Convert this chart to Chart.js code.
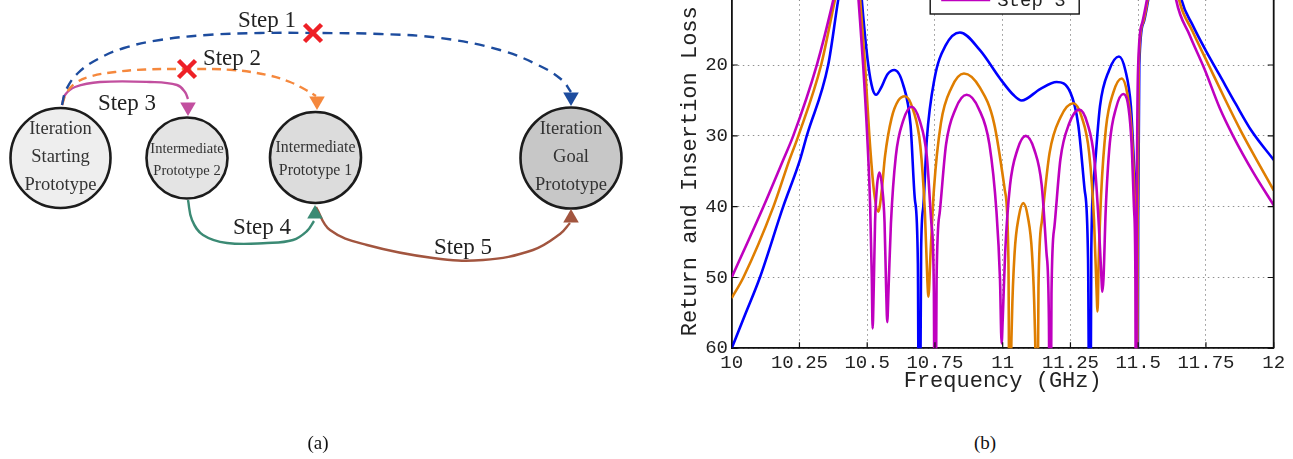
<!DOCTYPE html>
<html lang="en">
<head>
    <meta charset="UTF-8">
    <title>Iteration steps and filter response</title>
    <script src="https://cdn.jsdelivr.net/npm/chart.js@4.4.1/dist/chart.umd.min.js"></script>
    <style>
        html, body { margin: 0; padding: 0; background: #fff; }
        body { position: relative; width: 1293px; height: 459px; overflow: hidden; }
        #diagramWrap { position: absolute; left: 0; top: 0; width: 660px; height: 459px; }
        #responseWrap { position: absolute; left: 660px; top: -40px; width: 633px; height: 440px; }
        .caption { position: absolute; top: 431px; width: 60px; text-align: center;
                   font: 19px "Liberation Serif", serif; line-height: 24px; color: #111; }
    </style>
</head>
<body>
    <div id="diagramWrap"><canvas id="diagram"></canvas></div>
    <div id="responseWrap"><canvas id="response"></canvas></div>
    <div class="caption" style="left: 288px;">(a)</div>
    <div class="caption" style="left: 955px;">(b)</div>

<script>
// ---------- (b) filter response ----------
const freqTicks = [10, 10.25, 10.5, 10.75, 11, 11.25, 11.5, 11.75, 12];
const lossTicks = [10, 20, 30, 40, 50, 60];
const seriesNames = ['Step 1', 'Step 2', 'Step 3'];

// [frequency GHz, loss dB]; 90 marks a notch that drops below the 60 dB floor
const step1Points = [
    [10.000, 60.0], [10.050, 55.2], [10.104, 50.0], [10.190, 40.0], [10.252, 33.4], [10.277, 30.0], [10.356, 20.0], [10.393, 10.8], [10.420, 5.0], [10.440, 2.5],
    [10.458, 2.5], [10.470, 5.5], [10.480, 10.8], [10.504, 20.0], [10.520, 23.4], [10.533, 24.2], [10.550, 23.3], [10.575, 21.3], [10.600, 20.7],
    [10.632, 22.7], [10.660, 28.5], [10.676, 39.0], [10.687, 48.0], [10.692, 90.0],
    [10.699, 46.0], [10.707, 40.0], [10.720, 30.5], [10.748, 22.0], [10.790, 17.2], [10.842, 15.4],
    [10.916, 17.9], [10.990, 21.9], [11.039, 24.2], [11.070, 25.0], [11.138, 23.4], [11.199, 22.4],
    [11.250, 23.9], [11.279, 28.5], [11.302, 37.5], [11.315, 47.5], [11.322, 90.0],
    [11.327, 46.0], [11.338, 35.3], [11.359, 25.8], [11.392, 20.8], [11.429, 18.8],
    [11.453, 20.8], [11.473, 25.8], [11.487, 35.3], [11.494, 44.8], [11.497, 90.0],
    [11.500, 42.0], [11.504, 20.0], [11.520, 14.0], [11.537, 10.8], [11.565, 5.0], [11.590, 2.5],
    [11.610, 2.5], [11.635, 5.5], [11.660, 10.8], [11.700, 14.3], [11.750, 18.0], [11.800, 21.4], [11.860, 25.5], [11.920, 29.4], [12.000, 33.4]
];
const step2Points = [
    [10.000, 52.9], [10.043, 50.0], [10.154, 40.0], [10.213, 33.4], [10.246, 30.0], [10.330, 20.0], [10.381, 10.8], [10.415, 5.0], [10.437, 2.5],
    [10.452, 2.5], [10.463, 5.5], [10.474, 10.8], [10.492, 20.0], [10.508, 30.0], [10.525, 37.8], [10.541, 40.7],
    [10.552, 38.3], [10.566, 32.8], [10.590, 27.5], [10.615, 25.0], [10.640, 24.4],
    [10.670, 26.4], [10.696, 31.4], [10.713, 40.9], [10.722, 50.4], [10.726, 52.7],
    [10.733, 47.2], [10.746, 37.7], [10.772, 28.2], [10.811, 23.2], [10.857, 21.2],
    [10.916, 23.2], [10.968, 28.2], [11.008, 37.7], [11.021, 47.2], [11.027, 90.0],
    [11.030, 65.5], [11.034, 56.0], [11.044, 46.5], [11.059, 41.5], [11.076, 39.5],
    [11.093, 41.5], [11.108, 46.5], [11.118, 56.0], [11.122, 65.5], [11.125, 90.0],
    [11.132, 51.4], [11.145, 41.9], [11.173, 32.4], [11.213, 27.4], [11.261, 25.4],
    [11.292, 27.4], [11.319, 32.4], [11.337, 41.9], [11.346, 51.4], [11.350, 54.8],
    [11.354, 47.9], [11.363, 38.4], [11.381, 28.9], [11.408, 23.9], [11.439, 21.9],
    [11.459, 23.9], [11.475, 28.9], [11.487, 38.4], [11.492, 47.9], [11.495, 90.0],
    [11.498, 42.0], [11.502, 20.0], [11.518, 14.0], [11.535, 10.8], [11.562, 5.0], [11.585, 2.5],
    [11.605, 2.5], [11.628, 5.5], [11.651, 10.8], [11.700, 15.2], [11.760, 20.0], [11.820, 24.8], [11.880, 29.4], [11.940, 33.6], [12.000, 37.7]
];
const step3Points = [
    [10.000, 50.0], [10.117, 40.0], [10.190, 33.4], [10.227, 30.0], [10.314, 20.0], [10.375, 10.8], [10.408, 5.0], [10.430, 2.5],
    [10.448, 2.5], [10.458, 5.5], [10.468, 10.8], [10.485, 20.0], [10.500, 30.0], [10.511, 40.0], [10.517, 50.0], [10.520, 57.2],
    [10.524, 51.7], [10.529, 42.2], [10.536, 37.2], [10.545, 35.2], [10.555, 37.2], [10.564, 42.2], [10.570, 51.7], [10.574, 56.3],
    [10.5785, 51.9], [10.5875, 42.4], [10.6055, 32.9], [10.6325, 27.9], [10.664, 25.9],
    [10.694, 27.9], [10.720, 32.9], [10.737, 42.4], [10.746, 51.9], [10.750, 90.0],
    [10.756, 50.2], [10.768, 40.7], [10.791, 31.2], [10.826, 26.2], [10.867, 24.2],
    [10.912, 26.2], [10.951, 31.2], [10.977, 40.7], [10.990, 50.2], [10.996, 59.3],
    [11.000, 56.0], [11.009, 46.5], [11.027, 37.0], [11.054, 32.0], [11.085, 30.0],
    [11.117, 32.0], [11.144, 37.0], [11.1615, 46.5], [11.1705, 56.0], [11.175, 90.0],
    [11.180, 52.3], [11.191, 42.8], [11.213, 33.3], [11.245, 28.3], [11.283, 26.3],
    [11.313, 28.3], [11.338, 33.3], [11.355, 42.8], [11.363, 49.0], [11.368, 52.0],
    [11.372, 50.1], [11.380, 40.6], [11.395, 31.1], [11.418, 26.1], [11.445, 24.1],
    [11.4645, 26.1], [11.4755, 31.1], [11.485, 40.6], [11.4897, 50.1], [11.492, 90.0],
    [11.495, 40.0], [11.500, 20.0], [11.515, 14.0], [11.532, 10.8], [11.558, 5.0], [11.580, 2.5],
    [11.600, 2.5], [11.620, 5.5], [11.640, 10.8], [11.690, 15.8], [11.745, 20.6], [11.800, 26.0], [11.850, 30.0], [11.925, 35.2], [12.000, 39.8]
];

const seriesColors = ['#0000ff', '#df7e00', '#bf00bf'];
const monoFamily = "'Liberation Mono', 'Courier New', monospace";

const responseSets = [step1Points, step2Points, step3Points].map((pts, i) => ({
    label: seriesNames[i],
    data: pts.map(p => ({ x: p[0], y: p[1] })),
    borderColor: seriesColors[i],
    backgroundColor: seriesColors[i],
    borderWidth: 2.6,
    pointRadius: 0,
    cubicInterpolationMode: 'monotone',
    order: 3 - i   // last step drawn on top
}));

// closes the box (top/right) and adds MATLAB-style inward ticks
const axesBox = {
    id: 'axesBox',
    afterDatasetsDraw(chart) {
        const { ctx, chartArea: a, scales } = chart;
        ctx.save();
        ctx.strokeStyle = '#111';
        ctx.lineWidth = 1.8;
        ctx.beginPath();
        ctx.moveTo(a.left, a.top);
        ctx.lineTo(a.right, a.top);
        ctx.lineTo(a.right, a.bottom);
        ctx.stroke();
        ctx.lineWidth = 1.2;
        ctx.beginPath();
        freqTicks.forEach(v => {
            const px = scales.x.getPixelForValue(v);
            ctx.moveTo(px, a.bottom); ctx.lineTo(px, a.bottom - 6);
            ctx.moveTo(px, a.top); ctx.lineTo(px, a.top + 6);
        });
        lossTicks.forEach(v => {
            const py = scales.y.getPixelForValue(v);
            ctx.moveTo(a.left, py); ctx.lineTo(a.left + 6, py);
            ctx.moveTo(a.right, py); ctx.lineTo(a.right - 6, py);
        });
        ctx.stroke();
        ctx.restore();
    }
};

// boxed legend sitting inside the top of the axes
const legendBox = {
    id: 'legendBox',
    afterDraw(chart) {
        const { ctx, chartArea: a } = chart;
        const sets = chart.data.datasets;
        const rowH = 22, boxW = 149;
        const bottom = a.top + 19.8;
        const top = bottom - sets.length * rowH - 8;
        const left = (a.left + a.right) / 2 + 2 - boxW / 2;
        ctx.save();
        ctx.fillStyle = '#fff';
        ctx.fillRect(left, top, boxW, bottom - top);
        ctx.strokeStyle = '#111';
        ctx.lineWidth = 1.4;
        ctx.strokeRect(left, top, boxW, bottom - top);
        ctx.font = '19px ' + monoFamily;
        ctx.textBaseline = 'middle';
        ctx.textAlign = 'left';
        sets.forEach((ds, i) => {
            const yc = bottom - 14 - (sets.length - 1 - i) * rowH;
            ctx.strokeStyle = ds.borderColor;
            ctx.lineWidth = 2.6;
            ctx.beginPath();
            ctx.moveTo(left + 11, yc);
            ctx.lineTo(left + 60, yc);
            ctx.stroke();
            ctx.fillStyle = '#222';
            ctx.fillText(ds.label, left + 67, yc + 1);
        });
        ctx.restore();
    }
};

new Chart('response', {
    type: 'line',
    data: { datasets: responseSets },
    options: {
        responsive: true,
        maintainAspectRatio: false,
        animation: false,
        events: [],
        layout: { autoPadding: false, padding: { left: 0, right: 19.3, top: 34.2, bottom: 0 } },
        scales: {
            x: {
                type: 'linear', min: 10, max: 12,
                afterBuildTicks: s => { s.ticks = freqTicks.map(v => ({ value: v })); },
                afterFit: s => { s.height = 51.7; },
                ticks: { callback: v => String(v), autoSkip: false, maxRotation: 0, padding: 3,
                         color: '#222', font: { family: monoFamily, size: 19 } },
                grid: { color: '#8f8f8f', lineWidth: 1, drawTicks: false },
                border: { display: true, color: '#111', width: 1.8, dash: [1.5, 3.5] },
                title: { display: true, text: 'Frequency (GHz)', color: '#222',
                         font: { family: monoFamily, size: 22 }, padding: { top: 0, bottom: 5.8 } }
            },
            y: {
                type: 'linear', min: 10, max: 60, reverse: true,
                afterBuildTicks: s => { s.ticks = lossTicks.map(v => ({ value: v })); },
                afterFit: s => { s.width = 71.7; },
                ticks: { callback: v => String(v), autoSkip: false, padding: 3.7,
                         color: '#222', font: { family: monoFamily, size: 19 } },
                grid: { color: '#8f8f8f', lineWidth: 1, drawTicks: false },
                border: { display: true, color: '#111', width: 1.8, dash: [1.5, 3.5] },
                title: { display: true, text: 'Return and Insertion Loss', color: '#222',
                         font: { family: monoFamily, size: 22 }, padding: { top: 16.8, bottom: 0 } }
            }
        },
        plugins: { legend: { display: false }, tooltip: { enabled: false } }
    },
    plugins: [axesBox, legendBox]
});

// ---------- (a) iteration diagram ----------
// diagram drawn on hidden 660 x 459 linear axes (units = px of the panel)
const nodeLines = [
    ['Iteration', 'Starting', 'Prototype'],
    ['Intermediate', 'Prototype 2'],
    ['Intermediate', 'Prototype 1'],
    ['Iteration', 'Goal', 'Prototype']
];
const nodeX = [60.5, 187, 315.5, 571];
const nodeY = [158, 158, 157.5, 158];
const nodeR = [50, 40.5, 45.5, 50.5];
const nodeFill = ['#eeeeee', '#e4e4e4', '#dcdcdc', '#c7c7c7'];
const nodeFont = [18.5, 14.5, 15.8, 18.5];
const nodeFirstLine = [-24, -5.5, -5.5, -24.5];
const nodeLineGap = [28, 22, 23.4, 28];

const stepNames = ['Step 1', 'Step 2', 'Step 3', 'Step 4', 'Step 5'];
const stepPaths = [
    [[62, 105], [66, 90], [78, 73], [98, 59], [124, 48], [160, 40], [207, 35], [260, 33], [315, 33], [380, 34], [440, 38], [500, 50], [540, 66], [562, 80], [571, 92]],
    [[62, 105], [67, 92], [77, 82], [92, 76], [115, 72], [145, 69.5], [187, 69], [233, 70], [267, 75], [290, 82], [306, 90], [316, 96]],
    [[62, 105], [65, 95], [75, 87], [100, 82], [150, 82], [177, 85], [185, 92], [188, 99]],
    [[188, 200], [192, 220], [203, 235], [227, 243], [267, 243], [293, 240], [307, 231], [314, 221]],
    [[316, 207], [330, 230], [367, 245], [433, 258], [483, 260], [533, 250], [560, 234], [570, 223]]
];
const stepHeads = [[571, 97], [317, 101], [188, 107], [315, 214], [571, 218]];
const stepHeadTurn = [180, 180, 180, 0, 0];
const stepLabelX = [267, 232, 127, 262, 463];
const stepLabelY = [26.9, 65.2, 110.2, 233.5, 253.5];
const rejectedMarks = [[313, 33], [187, 69]];

const stepColors = ['#1d4c9e', '#f5883d', '#c24f9f', '#3b8a74', '#a2553f'];
const stepDash = [[10, 7], [9, 6], [], [], []];

const diagramSets = [
    {
        type: 'bubble',
        data: nodeX.map((x, i) => ({ x: x, y: nodeY[i], r: nodeR[i] })),
        backgroundColor: nodeFill,
        borderColor: '#1c1c1c',
        borderWidth: 2.6,
        order: 40
    },
    ...stepPaths.map((path, i) => ({
        type: 'scatter',
        showLine: true,
        data: path.map(p => ({ x: p[0], y: p[1] })),
        borderColor: stepColors[i],
        borderWidth: 2.4,
        borderDash: stepDash[i],
        pointRadius: 0,
        tension: 0.4,
        fill: false,
        order: 30
    })),
    {
        type: 'scatter',
        data: stepHeads.map(p => ({ x: p[0], y: p[1] })),
        pointStyle: 'triangle',
        pointRadius: 9,
        pointRotation: stepHeadTurn,
        pointBackgroundColor: stepColors,
        pointBorderWidth: 0,
        order: 20
    },
    {
        type: 'scatter',
        data: rejectedMarks.map(p => ({ x: p[0], y: p[1] })),
        pointStyle: 'crossRot',
        pointRadius: 12,
        pointBorderColor: '#ee2026',
        pointBorderWidth: 4.5,
        order: 10
    }
];

const diagramText = {
    id: 'diagramText',
    afterDatasetsDraw(chart) {
        const { ctx, scales: { x, y } } = chart;
        ctx.save();
        ctx.textAlign = 'center';
        ctx.textBaseline = 'alphabetic';
        ctx.fillStyle = '#333';
        nodeLines.forEach((lines, i) => {
            ctx.font = nodeFont[i] + 'px "Liberation Serif", serif';
            lines.forEach((t, j) => {
                ctx.fillText(t, x.getPixelForValue(nodeX[i]),
                    y.getPixelForValue(nodeY[i] + nodeFirstLine[i] + j * nodeLineGap[i]));
            });
        });
        ctx.fillStyle = '#222';
        ctx.font = '23px "Liberation Serif", serif';
        stepNames.forEach((t, i) => {
            ctx.fillText(t, x.getPixelForValue(stepLabelX[i]), y.getPixelForValue(stepLabelY[i]));
        });
        ctx.restore();
    }
};

new Chart('diagram', {
    type: 'scatter',
    data: { datasets: diagramSets },
    options: {
        responsive: true,
        maintainAspectRatio: false,
        animation: false,
        events: [],
        layout: { autoPadding: false, padding: 0 },
        scales: {
            x: { type: 'linear', min: 0, max: 660, display: false },
            y: { type: 'linear', min: 0, max: 459, reverse: true, display: false }
        },
        plugins: { legend: { display: false }, tooltip: { enabled: false } }
    },
    plugins: [diagramText]
});
</script>
</body>
</html>
